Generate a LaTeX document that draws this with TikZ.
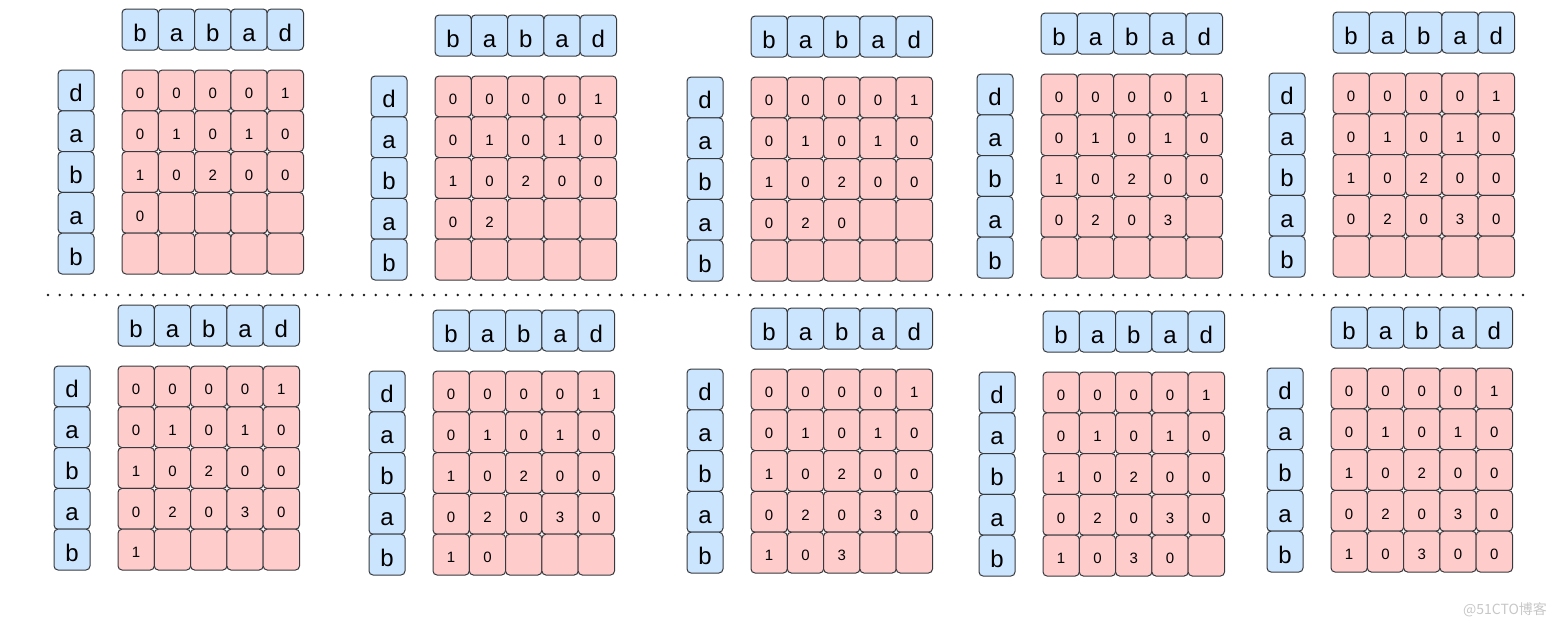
\documentclass[tikz,border=0pt]{standalone}
\usepackage{fontspec}
\setmainfont{Liberation Sans}
\newfontfamily\cjkfont{Noto Sans CJK SC}
\usepackage{tikz}
\usetikzlibrary{positioning}
\usepackage{xcolor}

\definecolor{cellblue}{HTML}{CCE5FF}
\definecolor{cellpink}{HTML}{FFCCCC}
\definecolor{cellline}{HTML}{36393D}

% one step of the table: name, left of table, top of table, cells filled so far
\newcommand{\dppanel}[4]{%
    % string along the top
    \foreach \ch [count=\col from 0] in {b,a,b,a,d} {
        \node[letterbox] (#1-top-\col) at ({#2+36.3*(\col+0.5)}, {#3-40.5}) {\ch};
    }
    % string down the side
    \foreach \ch [count=\row from 0] in {d,a,b,a,b} {
        \node[letterbox, minimum width=36pt, minimum height=40.8pt] (#1-side-\row) at ({#2-46}, {#3+40.8*(\row+0.5)}) {\ch};
    }
    % table cells
    \foreach \v [count=\i from 0] in {0,0,0,0,1, 0,1,0,1,0, 1,0,2,0,0, 0,2,0,3,0, 1,0,3,0,0} {
        \pgfmathtruncatemacro{\row}{\i/5}
        \pgfmathtruncatemacro{\col}{\i-5*\row}
        \ifnum\i<#4\relax
            \node[numbox] (#1-\row-\col) at ({#2+36.3*(\col+0.5)}, {#3+40.8*(\row+0.5)}) {\v};
        \else
            \node[numbox] (#1-\row-\col) at ({#2+36.3*(\col+0.5)}, {#3+40.8*(\row+0.5)}) {};
        \fi
    }
}

\begin{document}
\begin{tikzpicture}[
    x=1pt, y=-1pt,
    letterbox/.style={rectangle, draw=cellline, line width=1pt, fill=cellblue, rounded corners=4pt,
        minimum width=36.3pt, minimum height=41pt, inner sep=0pt, outer sep=0pt,
        text height=23pt, text depth=0pt, font=\fontsize{24}{28}\selectfont},
    numbox/.style={rectangle, draw=cellline, line width=1pt, fill=cellpink, rounded corners=4pt,
        minimum width=36.3pt, minimum height=40.8pt, inner sep=0pt, outer sep=0pt,
        text height=16.5pt, text depth=0pt, font=\fontsize{15}{18}\selectfont},
    sepline/.style={line width=2.8pt, line cap=round, dash pattern=on 0pt off 11.706pt, color=black!90}
]
    \useasboundingbox (0,0) rectangle (1559,627);

    % first row of steps
    \dppanel{p1}{122}{70}{16}
    \dppanel{p2}{435}{76}{17}
    \dppanel{p3}{751}{77}{18}
    \dppanel{p4}{1041}{74}{19}
    \dppanel{p5}{1333}{73}{20}

    % dotted separator
    \coordinate (sepL) at (48,295);
    \coordinate (sepR) at (1523,295);
    \draw[sepline] (sepL) -- (sepR);

    % second row of steps
    \dppanel{p6}{118}{366}{21}
    \dppanel{p7}{433}{371}{22}
    \dppanel{p8}{751}{369}{23}
    \dppanel{p9}{1043}{372}{24}
    \dppanel{p10}{1331}{368}{25}

    % watermark
    \node[text=black!22, font=\cjkfont\fontsize{14}{16}\selectfont, inner sep=0pt] (mark) at (1505,610) {@51CTO博客};
\end{tikzpicture}
\end{document}
